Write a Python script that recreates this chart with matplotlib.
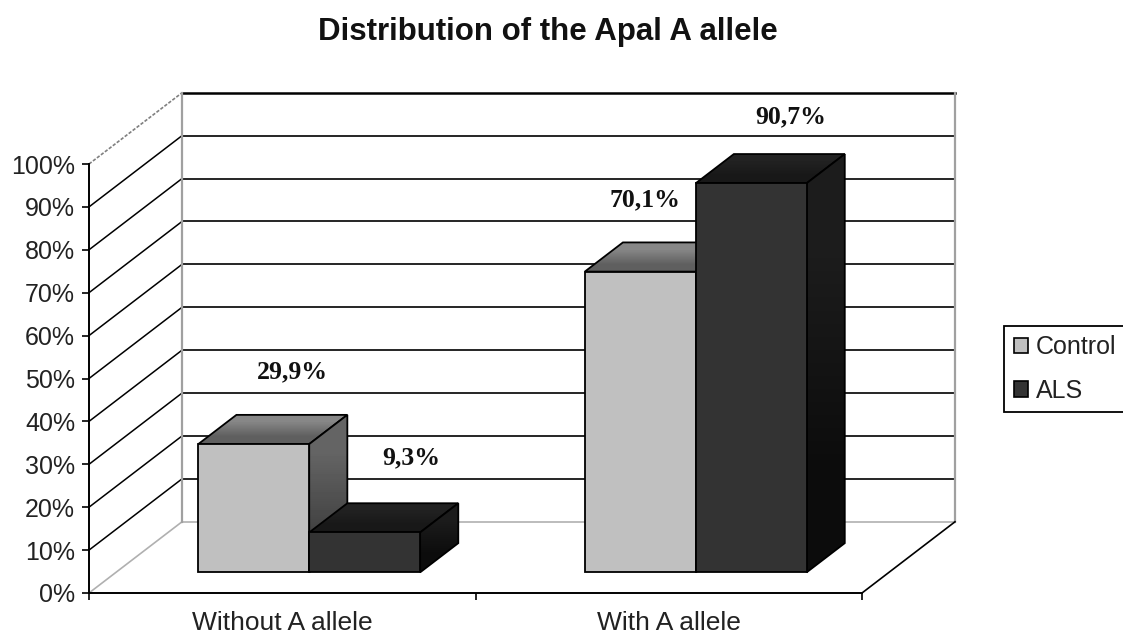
import matplotlib
matplotlib.use("Agg")
import matplotlib.pyplot as plt
import numpy as np
from matplotlib.patches import Patch, Polygon

# data
categories = ["Without A allele", "With A allele"]
series_names = ["Control", "ALS"]
control_vals = [29.9, 70.1]
als_vals = [9.3, 90.7]
control_labels = ["29,9%", "70,1%"]
als_labels = ["9,3%", "90,7%"]
y_ticks = [0, 10, 20, 30, 40, 50, 60, 70, 80, 90, 100]

# 3d look: depth of the box in data units
DX = 0.2406
DY = 16.6
BAR_W = 0.287
BAR_START = 0.29   # bars sit this far into the depth
BAR_DEPTH = 0.41

plt.rcParams["font.family"] = ["Liberation Sans", "DejaVu Sans"]

fig = plt.figure(figsize=(11.23, 6.35), dpi=100)
ax = fig.add_axes([89 / 1123, 42 / 635, 773 / 1123, 429 / 635])
ax.set_xlim(0, 2)
ax.set_ylim(0, 100)
ax.patch.set_alpha(0)


def shade(verts, c_top, c_bottom, z):
    # polygon filled with a vertical gradient
    verts = np.array(verts)
    grey = np.array([[c_top], [c_bottom]])
    im = ax.imshow(grey, cmap="gray", vmin=0, vmax=255, aspect="auto", interpolation="bilinear",
                   extent=[verts[:, 0].min(), verts[:, 0].max(), verts[:, 1].min(), verts[:, 1].max()],
                   zorder=z)
    poly = Polygon(verts, closed=True, facecolor="none", edgecolor="#000000", lw=1.3, zorder=z + 0.1, clip_on=False)
    ax.add_patch(poly)
    im.set_clip_box(fig.bbox)
    im.set_clip_path(poly)
    ax.set_xlim(0, 2)
    ax.set_ylim(0, 100)


def bar3d(x, val, front, top_c, side_c, z):
    x0 = x + BAR_START * DX
    y0 = BAR_START * DY
    x1 = x0 + BAR_W
    y1 = y0 + val
    ddx = BAR_DEPTH * DX
    ddy = BAR_DEPTH * DY
    shade([(x0, y1), (x1, y1), (x1 + ddx, y1 + ddy), (x0 + ddx, y1 + ddy)], top_c[0], top_c[1], z)
    shade([(x1, y0), (x1 + ddx, y0 + ddy), (x1 + ddx, y1 + ddy), (x1, y1)], side_c[0], side_c[1], z + 1)
    ax.add_patch(Polygon([(x0, y0), (x1, y0), (x1, y1), (x0, y1)], closed=True, facecolor=front,
                         edgecolor="#000000", lw=1.3, zorder=z + 2, clip_on=False))


# walls and floor
for t in y_ticks:
    if t == 0:
        c, lw, ls = "#b0b0b0", 1.2, "-"
    elif t == 100:
        c, lw, ls = "#808080", 1.2, (0, (2, 1))
    else:
        c, lw, ls = "#000000", 1.1, "-"
    ax.plot([0, DX], [t, t + DY], color=c, lw=lw, ls=ls, zorder=1, clip_on=False)
    back_c = "#b0b0b0" if t == 0 else "#000000"
    back_lw = 1.8 if t == 100 else 1.2
    ax.plot([DX, 2 + DX], [t + DY, t + DY], color=back_c, lw=back_lw, zorder=1, clip_on=False)
ax.plot([DX, DX], [DY, 100 + DY], color="#a0a0a0", lw=1.6, zorder=1.2, clip_on=False)
ax.plot([2 + DX, 2 + DX], [DY, 100 + DY], color="#a0a0a0", lw=1.6, zorder=1.2, clip_on=False)
ax.plot([2, 2 + DX], [0, DY], color="#000000", lw=1.2, zorder=1.2, clip_on=False)

# bars
z = 3
for i in range(len(categories)):
    left = i + 0.5 - BAR_W
    bar3d(left, control_vals[i], "#c0c0c0", (135, 95), (100, 65), z)
    bar3d(left + BAR_W, als_vals[i], "#333333", (34, 24), (28, 12), z + 3)
    z += 6

# data labels
label_style = dict(family="Liberation Serif", weight="bold", fontsize=18.5, ha="center", va="center",
                   color="#111111", zorder=30)
ax.text(0.526, 51.5, control_labels[0], **label_style)
ax.text(0.835, 31.5, als_labels[0], **label_style)
ax.text(1.438, 91.6, control_labels[1], **label_style)
ax.text(1.816, 111.0, als_labels[1], **label_style)

# axes
ax.spines["top"].set_visible(False)
ax.spines["right"].set_visible(False)
ax.spines["left"].set_linewidth(1.4)
ax.spines["bottom"].set_linewidth(1.4)
ax.spines["left"].set_zorder(40)
ax.spines["bottom"].set_zorder(40)
ax.set_yticks(y_ticks)
ax.set_yticklabels([str(t) + "%" for t in y_ticks], fontsize=18, color="#222222")
ax.set_xticks([0, 1, 2])
ax.set_xticklabels([])
ax.set_xticks([0.5, 1.5], minor=True)
ax.set_xticklabels(categories, minor=True, fontsize=19, color="#222222")
ax.tick_params(axis="x", which="minor", length=0, pad=13)
ax.tick_params(axis="x", which="major", length=5, width=1.2)
ax.tick_params(axis="y", length=5, width=1.2, pad=5)

fig.text(547.5 / 1123, 1 - 32 / 635, "Distribution of the Apal A allele", weight="bold", fontsize=22.5,
         ha="center", va="center", color="#111111")

handles = [Patch(facecolor="#c0c0c0", edgecolor="#000000", lw=1.2),
           Patch(facecolor="#333333", edgecolor="#000000", lw=1.2)]
leg = fig.legend(handles, series_names, loc="center left", bbox_to_anchor=(1004 / 1123, 1 - 369 / 635),
                 fontsize=18, frameon=True, fancybox=False, edgecolor="#000000", framealpha=1,
                 handlelength=0.58, handleheight=0.58, handletextpad=0.32, labelspacing=0.78,
                 borderpad=0.38, borderaxespad=0, labelcolor="#222222")
leg.get_frame().set_linewidth(1.3)

fig.savefig("out.png", dpi=100)
